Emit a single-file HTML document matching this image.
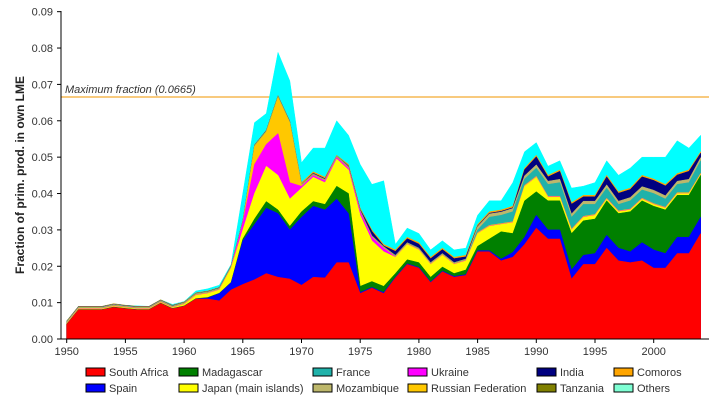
<!DOCTYPE html>
<html><head><meta charset="utf-8"><style>
html,body{margin:0;padding:0;background:#fff;width:711px;height:409px;overflow:hidden}
svg{display:block;font-family:"Liberation Sans",sans-serif}
</style></head><body>
<svg id="s" width="711" height="409" viewBox="0 0 711 409" xmlns="http://www.w3.org/2000/svg"></svg>
<script>
const S=document.getElementById('s');const NS='http://www.w3.org/2000/svg';
function el(t,a,txt){const e=document.createElementNS(NS,t);for(const k in a)e.setAttribute(k,a[k]);if(txt!=null)e.textContent=txt;S.appendChild(e);return e;}
const X=y=>66.7+(y-1950)*11.74, Y=v=>339-v*3.637;
const yrs=[];for(let y=1950;y<=2004;y++)yrs.push(y);
function fill(obj){const a=[];let last=null;for(let i=0;i<yrs.length;i++){const y=yrs[i];a.push(obj[y]!==undefined?obj[y]:null);}return a;}
function arr(start,vals){const o={};vals.forEach((v,i)=>o[start+i]=v);return o;}
const red=fill(arr(1950,[4,8,8,8,8.7,8.3,8,8,9.8,8.3,9,11,11,10.5,13.5,15,16.3,18,17,16.5,14.8,17,16.8,21,21,12.5,14,12.5,16.8,20.5,19.5,15.5,18.5,17,17.5,24,24,21.5,22.5,26,30.5,27.5,27.5,16.5,20.5,20.5,25,21.5,21,21.5,19.5,19.5,23.5,23.5,29]));
const blue=fill(arr(1962,[11.3,12.5,15.5,27,31.5,36,34.5,30,33.5,36.5,35.5,38.5,34.5,12.8,14.2,12.8,17,20.7,19.7,15.7,18.7,17.2,17.7,24.3,24.3,22,23.8,28,34,30,30,19,23,23.5,28.5,25,24,26.5,24.5,23.5,28,28,33.5]));
const green=fill(arr(1965,[27.5,33,37.8,35.5,31,35,37.8,37,42,40,14.5,15.8,14.5,18,21.8,21,17,19.8,18,19,25.5,27.5,29.5,29,38,40.5,38,38,29,32.5,33,38,34.5,35,38,36.5,35.5,39.5,39.5,45]));
const yellow=fill(arr(1960,[9.5,12,12.5,13.5,19.5,30,40,47.5,45,38.5,41.5,44.5,43,49.5,46.5,34,27,24,22.5,26,24.5,20.5,23,20.5,21.5,29,31,31.5,32,42,44.5,39,39,30,33.5,34,38.5,35,35.5,38.5,37,36,40,40,45.3]));
const mag=fill(arr(1965,[32,48,53.5,56.5,43,42,45,43.5,50,47,35,28,25]));
const orng=fill(arr(1966,[53,57,66.5,59.5,42.3]));
const dark=fill(arr(1970,[43,46,44.5,50.5,48,36,30,26,24.5,28,26.5,22.5,25,22.5,23,31.5,35,35.5,36.5,47,50.5,45,46.5,37.5,39.5,39.5,45,40.5,41.5,45,44,42.5,45.5,46.5,51.5]));
const teal=fill(arr(1985,[30,33.5,34,35,44,47,42.5,43,33.5,37,37,41.5,37,38,41,40,38.5,42.5,43,49]));
const tot=fill(arr(1950,[4.5,8.6,8.6,8.7,9.2,9.2,9.1,9,10.8,9.5,10.3,13.2,13.8,14.8,20.5,40,59.5,62,78.8,71,48.5,52.5,52.5,60,56,48,42.5,43.5,26,30.5,29,24.5,27,24.5,25,34,38,38,43,51.5,54,47.5,49,41.5,42,43,49,45,47,50,50,50,54.5,52.5,56]));
// cumulative layers with defaults
function cum(prev,cur,eps){return prev.map((p,i)=>cur[i]==null?p+eps:Math.max(p,cur[i]));}
const L=[];
const cR=red.slice();
const cB=cum(cR,blue,0);
const cG=cum(cB,green,0.1);
const cY=cum(cG,yellow,0.2);
const cM=cum(cY,mag,0.1);
const cO=cum(cM,orng,0.15);
const cT=cum(cO,teal,0.1);
const cTan=cT.map((v,i)=>v+(yrs[i]>=1985?0.9:0.15));
const cD=cum(cTan,dark.map((d,i)=>d==null?null:d-0.4),0.1);
const cGold=cum(cD,dark,0.1);
const cTot=cum(cGold,tot,0.3);
const layers=[[cTot,'#00ffff'],[cGold,'#ffa500'],[cD,'#000080'],[cTan,'#bdb76b'],[cT,'#20b2aa'],[cO,'#ffc800'],[cM,'#ff00ff'],[cY,'#ffff00'],[cG,'#008000'],[cB,'#0000ff'],[cR,'#ff0000']];
// axes & grid
el('line',{x1:61,y1:97,x2:709,y2:97,stroke:'#f5b853','stroke-width':1.5});
el('text',{x:65,y:93,'font-size':11,'font-style':'italic',fill:'#333'},'Maximum fraction (0.0665)');
layers.forEach(([c,col])=>{let d='M'+X(1950)+','+Y(0);c.forEach((v,i)=>d+=' L'+X(yrs[i]).toFixed(1)+','+Y(v).toFixed(1));d+=' L'+X(2004)+','+Y(0)+'Z';el('path',{d,fill:col,stroke:col,'stroke-width':0.5});});
el('line',{x1:61,y1:11,x2:61,y2:339,stroke:'#000','stroke-width':1});
el('line',{x1:61,y1:339,x2:709,y2:339,stroke:'#000','stroke-width':1});
for(let i=0;i<=9;i++){const y=Y(i*10);el('line',{x1:57,y1:y,x2:61,y2:y,stroke:'#000'});el('text',{x:53,y:y+4,'font-size':11,'text-anchor':'end',fill:'#333'},(i/100).toFixed(2));}
for(let yr=1950;yr<=2000;yr+=5){const x=X(yr);el('line',{x1:x,y1:339,x2:x,y2:343,stroke:'#000'});el('text',{x:x,y:355,'font-size':11,'text-anchor':'middle',fill:'#333'},yr);}
el('text',{transform:'translate(24,175) rotate(-90)','font-size':12,'font-weight':'bold','text-anchor':'middle',fill:'#222'},'Fraction of prim. prod. in own LME');
const leg=[[86,'South Africa','#ff0000','Spain','#0000ff'],[179,'Madagascar','#008000','Japan (main islands)','#ffff00'],[313,'France','#20b2aa','Mozambique','#bdb76b'],[408,'Ukraine','#ff00ff','Russian Federation','#ffc800'],[537,'India','#000080','Tanzania','#808000'],[614,'Comoros','#ffa500','Others','#7fffd4']];
leg.forEach(([x,a,ca,b,cb])=>{[[a,ca,368],[b,cb,384]].forEach(([t,c,y])=>{el('rect',{x:x,y:y,width:19,height:8,fill:c,stroke:'#000','stroke-width':1});el('text',{x:x+23,y:y+8,'font-size':11,fill:'#333'},t);});});
</script>
</body></html>
